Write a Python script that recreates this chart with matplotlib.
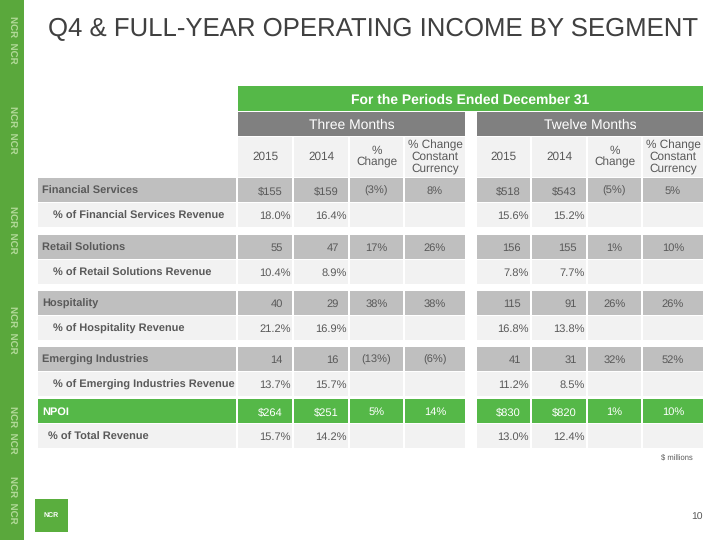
import matplotlib.pyplot as plt
from matplotlib.patches import Rectangle

plt.rcParams["font.family"] = ["Liberation Sans", "DejaVu Sans"]
plt.rcParams["text.hinting"] = "no_hinting"

# table content
segments = ["Financial Services", "Retail Solutions", "Hospitality", "Emerging Industries"]
ratio_labels = ["% of Financial Services Revenue", "% of Retail Solutions Revenue",
                "% of Hospitality Revenue", "% of Emerging Industries Revenue"]

q_2015 = ["$155", "55", "40", "14"]
q_2014 = ["$159", "47", "29", "16"]
q_chg = ["(3%)", "17%", "38%", "(13%)"]
q_cc = ["8%", "26%", "38%", "(6%)"]
y_2015 = ["$518", "156", "115", "41"]
y_2014 = ["$543", "155", "91", "31"]
y_chg = ["(5%)", "1%", "26%", "32%"]
y_cc = ["5%", "10%", "26%", "52%"]

q_pct_2015 = ["18.0%", "10.4%", "21.2%", "13.7%"]
q_pct_2014 = ["16.4%", "8.9%", "16.9%", "15.7%"]
y_pct_2015 = ["15.6%", "7.8%", "16.8%", "11.2%"]
y_pct_2014 = ["15.2%", "7.7%", "13.8%", "8.5%"]

total_label = "NPOI"
total_vals = ["$264", "$251", "5%", "14%", "$830", "$820", "1%", "10%"]
total_pct_label = "% of Total Revenue"
total_pct = ["15.7%", "14.2%", "13.0%", "12.4%"]

col_headers = ["2015", "2014", "%\nChange", "% Change\nConstant\nCurrency"]

GREEN = "#55b848"
DARK_GRAY = "#808080"
MID_GRAY = "#bfbfbf"
LIGHT_GRAY = "#f2f2f2"
TEXT = "#595959"

fig = plt.figure(figsize=(7.2, 5.4), dpi=100)
ax = fig.add_axes([0, 0, 1, 1])
ax.set_xlim(0, 720)
ax.set_ylim(540, 0)
ax.axis("off")


def box(x0, y0, x1, y1, color):
    ax.add_patch(Rectangle((x0, y0), x1 - x0, y1 - y0, facecolor=color, edgecolor="none"))


# left decorative strip
box(0, 0, 24, 540, "#5aa83c")
for k, yy in enumerate([40, 130, 230, 330, 430, 500]):
    ax.text(12, yy, "NCR  NCR", rotation=-90, color="#c8e6b0", fontsize=7,
            fontweight="bold", ha="center", va="center", alpha=0.8)

# title
ax.text(48, 36, "Q4 & FULL-YEAR OPERATING INCOME BY SEGMENT", fontsize=18.5,
        color="#404040", ha="left", va="baseline")

# column edges
q_cols = [(238, 292), (294, 348), (350, 403), (405, 465)]
y_cols = [(477, 530), (532, 586), (588, 641), (643, 703)]
label_col = (38, 236)

# top headers
box(238, 86, 703, 111, GREEN)
ax.text((238 + 703) / 2, 103.5, "For the Periods Ended December 31", color="white",
        fontsize=10, fontweight="bold", ha="center", va="baseline")
box(238, 112, 465, 136, DARK_GRAY)
box(477, 112, 703, 136, DARK_GRAY)
ax.text((238 + 465) / 2, 129, "Three Months", color="white", fontsize=10,
        ha="center", va="baseline")
ax.text((477 + 703) / 2, 129, "Twelve Months", color="white", fontsize=10,
        ha="center", va="baseline")
for cols in (q_cols, y_cols):
    for (x0, x1), h in zip(cols, col_headers):
        box(x0, 137, x1, 177, LIGHT_GRAY)
        ax.text((x0 + x1) / 2, 157, h, color=TEXT, fontsize=8.5, ha="center",
                va="center", linespacing=1.05)


def value(x0, x1, y, s, kind, color=TEXT):
    if kind == "num":
        ax.text(x1 - 9, y, s, color=color, fontsize=8, ha="right", va="baseline")
    elif kind == "pct":
        ax.text(x1 - 1, y, s, color=color, fontsize=8, ha="right", va="baseline")
    else:
        ax.text((x0 + x1) / 2, y, s, color=color, fontsize=8, ha="center",
                va="baseline")


def row(y0, y1, color, label, indent, bold, vals, kinds, txt=TEXT):
    box(label_col[0], y0, label_col[1], y1, color)
    yb = (y0 + y1) / 2 + 4
    ax.text(label_col[0] + indent, yb, label, color=txt, fontsize=7.9,
            fontweight="bold" if bold else "normal", ha="left", va="baseline")
    for (x0, x1), v, k in zip(q_cols + y_cols, vals, kinds):
        box(x0, y0, x1, y1, color)
        if v:
            value(x0, x1, yb, v, k, txt)


seg_kinds = ["num", "num", "c", "c"] * 2
pct_kinds = ["pct", "pct", "c", "c"] * 2
starts = [178, 235, 291, 347]
for i, seg in enumerate(segments):
    y0 = starts[i]
    row(y0, y0 + 24, MID_GRAY, seg, 4, True,
        [q_2015[i], q_2014[i], q_chg[i], q_cc[i], y_2015[i], y_2014[i], y_chg[i], y_cc[i]],
        seg_kinds)
    row(y0 + 25, y0 + 49, LIGHT_GRAY, ratio_labels[i], 15, True,
        [q_pct_2015[i], q_pct_2014[i], "", "", y_pct_2015[i], y_pct_2014[i], "", ""],
        pct_kinds)

row(399, 423, GREEN, total_label, 4, True, total_vals, seg_kinds, txt="white")
row(424, 448, LIGHT_GRAY, total_pct_label, 10, True,
    [total_pct[0], total_pct[1], "", "", total_pct[2], total_pct[3], "", ""], pct_kinds)

ax.text(677, 460, "$ millions", color=TEXT, fontsize=5.5, ha="center", va="baseline")
ax.text(703, 520, "10", color=TEXT, fontsize=7.5, ha="right", va="baseline")

# logo
box(35, 499, 68, 532, "#5aae3e")
ax.text(51.5, 515.5, "NCR", color="white", fontsize=5, fontweight="bold",
        ha="center", va="center")

fig.savefig("out.png", dpi=100)
